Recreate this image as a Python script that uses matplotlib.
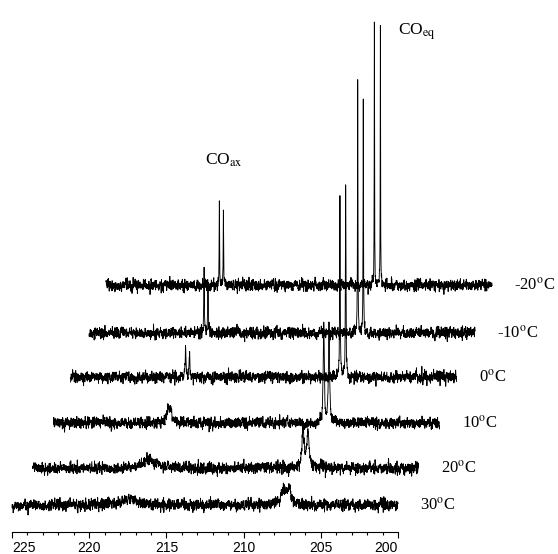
import numpy as np
import matplotlib
matplotlib.use("Agg")
import matplotlib.pyplot as plt

plt.rcParams["mathtext.fontset"] = "stix"

# temperatures, bottom trace first
temps = ["30", "20", "10", "0", "-10", "-20"]
# vertical baseline of each trace (px above the axis line)
baselines = [27, 64, 109, 155, 199, 247]
# horizontal stacking shift of each trace (ppm)
shifts = [0.0, 1.33, 2.69, 3.79, 4.99, 6.09]

# peaks per trace: (ppm, height, half width in ppm)
peaks = [
    [(217.5, 6, 0.6), (207.4, 18, 0.15), (207.06, 16, 0.15)],
    [(217.5, 9, 0.4), (207.48, 40, 0.08), (207.16, 37, 0.08)],
    [(217.58, 16, 0.08), (217.4, 14, 0.08), (207.5, 100, 0.04), (207.16, 100, 0.04)],
    [(217.55, 27, 0.03), (217.3, 25, 0.03), (207.55, 182, 0.02), (207.18, 189, 0.02)],
    [(217.55, 67, 0.02), (217.3, 56, 0.02), (207.6, 248, 0.015), (207.24, 237, 0.015)],
    [(217.66, 85, 0.015), (217.4, 76, 0.015), (207.62, 271, 0.012), (207.23, 264, 0.012)],
]

ppm = np.linspace(225, 200, 6000)
rng = np.random.default_rng(7)

fig = plt.figure(figsize=(5.58, 5.54), dpi=100)
ax = fig.add_axes([12 / 558, 22 / 554, 386 / 558, 532 / 554])

for i, t in enumerate(temps):
    y = np.zeros_like(ppm)
    for p0, h, w in peaks[i]:
        y += h / (1 + ((ppm - p0) / w) ** 2)
    # baseline noise texture
    noise = rng.normal(0, 4.0, ppm.size)
    noise = np.convolve(noise, [0.2, 0.3, 0.4, 0.3, 0.2], mode="same")
    ax.plot(ppm - shifts[i], baselines[i] + y + noise, color="black",
            lw=0.65, clip_on=False)
    ax.text(200 - shifts[i] - 1.45, baselines[i], t + r"$^{\rm o}$C",
            fontsize=12, family="Liberation Serif", ha="left",
            va="center")

ax.text(212.5, 372, r"CO$_{\rm ax}$", fontsize=12.5,
        family="Liberation Serif", ha="left", va="center")
ax.text(200.0, 500, r"CO$_{\rm eq}$", fontsize=12.5,
        family="Liberation Serif", ha="left", va="center")

ax.set_xlim(225, 200)
ax.set_ylim(0, 532)
for s in ["left", "top", "right"]:
    ax.spines[s].set_visible(False)
ax.spines["bottom"].set_linewidth(0.8)
ax.set_yticks([])
ax.set_xticks([225, 220, 215, 210, 205, 200])
ax.set_xticks(np.arange(200, 226, 1), minor=True)
ax.tick_params(axis="x", which="major", length=4.2, width=0.8, pad=2,
               labelsize=10)
ax.tick_params(axis="x", which="minor", length=2.4, width=0.8)
labels = ax.set_xticklabels(["225", "220", "215", "210", "205", "200"],
                            family="Liberation Sans")
labels[0].set_ha("left")
labels[-1].set_ha("right")
ax.patch.set_visible(False)

fig.savefig("out.png", dpi=100)
